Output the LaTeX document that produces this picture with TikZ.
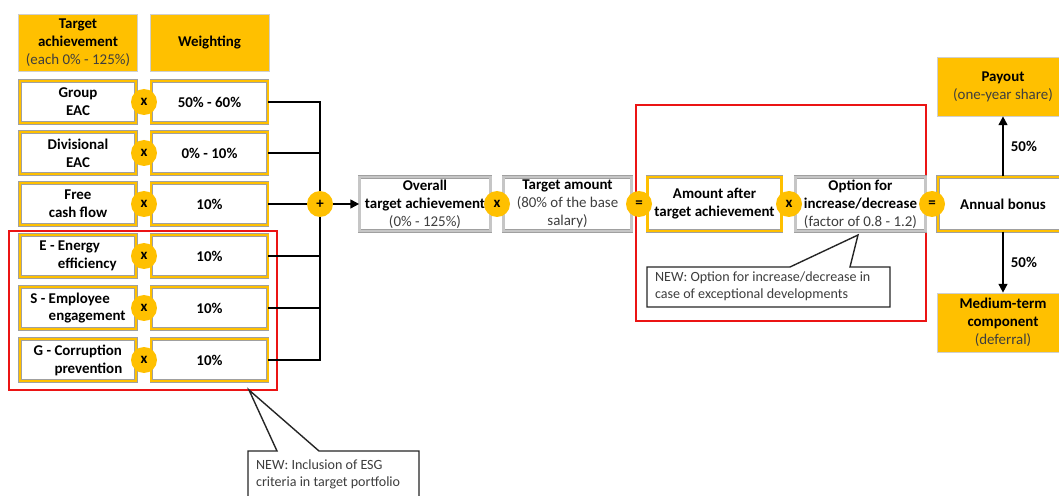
\documentclass[tikz,border=0pt]{standalone}
\usepackage{fontspec}
\setmainfont{Carlito}
\usetikzlibrary{arrows.meta}

\definecolor{bonusyellow}{RGB}{255,192,0}
\definecolor{framegray}{RGB}{160,160,160}
\definecolor{esgred}{RGB}{235,20,20}
\definecolor{subgray}{RGB}{62,62,62}
\newcommand{\subtxt}[1]{{\color{subgray}#1}}

\begin{document}
\begin{tikzpicture}[x=0.02cm,y=-0.02cm,
    every node/.style={font=\fontsize{8.5}{10.2}\selectfont, align=center, inner sep=1pt},
    headbox/.style={fill=bonusyellow, draw=framegray!50, line width=0.4pt,
      minimum width=2.38cm, minimum height=1.14cm},
    rowbox/.style={fill=white, draw=framegray, line width=0.35pt, double=bonusyellow,
      double distance=1.3pt, minimum width=2.33cm, minimum height=0.85cm,
      font=\fontsize{8.5}{10.2}\selectfont\bfseries},
    graybox/.style={fill=white, draw=framegray, line width=0.4pt, double=framegray!60,
      double distance=1.4pt, minimum height=1.09cm},
    opcircle/.style={circle, fill=bonusyellow, minimum size=0.52cm, inner sep=0pt,
      font=\fontsize{8.5}{10.2}\selectfont\bfseries},
    connector/.style={line width=1pt},
    esgframe/.style={draw=esgred, line width=1.3pt},
    callout/.style={draw=black!85, fill=white, line width=0.8pt},
    notetext/.style={anchor=north west, align=left, text=subgray,
      font=\fontsize{8}{9.6}\selectfont}]
        \useasboundingbox (0,0) rectangle (1059,496);
        \clip (0,0) rectangle (1059,496);
        % highlight frames
        \draw[esgframe] (9,231) rectangle (277,390);
        \draw[esgframe] (636,105) rectangle (926,321);
        % column heads
        \node[headbox] (tahead) at (78,43) {\textbf{Target}\\\textbf{achievement}\\\subtxt{(each 0\% - 125\%)}};
        \node[headbox] (wthead) at (209.5,43) {\textbf{Weighting}};
        % target achievement per component
        \node[rowbox] (t1) at (78,102) {Group\\EAC};
        \node[rowbox] (t2) at (78,153) {Divisional\\EAC};
        \node[rowbox] (t3) at (78,204) {Free\\cash flow};
        \node[rowbox, align=left] (t4) at (78,256) {E - Energy\\\phantom{E - }efficiency};
        \node[rowbox, align=left] (t5) at (78,308) {S - Employee\\\phantom{S - }engagement};
        \node[rowbox, align=left] (t6) at (78,360) {G - Corruption\\\phantom{G - }prevention};
        % weightings
        \node[rowbox] (w1) at (209.5,102) {50\% - 60\%};
        \node[rowbox] (w2) at (209.5,153) {0\% - 10\%};
        \node[rowbox] (w3) at (209.5,204) {10\%};
        \node[rowbox] (w4) at (209.5,256) {10\%};
        \node[rowbox] (w5) at (209.5,308) {10\%};
        \node[rowbox] (w6) at (209.5,360) {10\%};
        % sum of weighted components
        \node[opcircle] (plus) at (320,204) {+};
        \draw[connector] (w1.east) -| (plus);
        \draw[connector] (w2.east) -| (plus);
        \draw[connector] (w3.east) -- (plus);
        \draw[connector] (w4.east) -| (plus);
        \draw[connector] (w5.east) -| (plus);
        \draw[connector] (w6.east) -| (plus);
        % operators between columns
        \node[opcircle] (x1) at (144,102) {x};
        \node[opcircle] (x2) at (144,153) {x};
        \node[opcircle] (x3) at (144,204) {x};
        \node[opcircle] (x4) at (144,256) {x};
        \node[opcircle] (x5) at (144,308) {x};
        \node[opcircle] (x6) at (144,360) {x};
        % bonus chain
        \node[graybox, minimum width=2.62cm] (overall) at (425,204) {\textbf{Overall}\\\textbf{target achievement}\\\subtxt{(0\% - 125\%)}};
        \node[graybox, minimum width=2.56cm] (amount) at (567.5,204) {\textbf{Target amount}\\\subtxt{(80\% of the base}\\\subtxt{salary)}};
        \node[rowbox, minimum width=2.68cm, minimum height=1.09cm] (after) at (714.5,204) {Amount after\\target achievement};
        \node[graybox, minimum width=2.6cm] (option) at (860.5,204) {\textbf{Option for}\\\textbf{increase/decrease}\\\subtxt{(factor of 0.8 - 1.2)}};
        \node[rowbox, minimum width=2.6cm, minimum height=1.09cm] (bonus) at (1003,204) {Annual bonus};
        \node[opcircle] (x7) at (497,204) {x};
        \node[opcircle] (eq1) at (639,204) {=};
        \node[opcircle] (x8) at (789,204) {x};
        \node[opcircle] (eq2) at (932,204) {=};
        \draw[connector, -{Triangle[length=5pt,width=5pt]}] (plus) -- (overall);
        % split of the annual bonus
        \node[headbox, minimum width=2.64cm, minimum height=1.18cm] (payout) at (1003,86.5) {\textbf{Payout}\\\subtxt{(one-year share)}};
        \node[headbox, minimum width=2.64cm, minimum height=1.18cm] (deferral) at (1003,322.5) {\textbf{Medium-term}\\\textbf{component}\\\subtxt{(deferral)}};
        \draw[connector, -{Triangle[length=5pt,width=5pt]}] (bonus) -- (payout) node[midway, right=3pt, font=\fontsize{8.5}{10.2}\selectfont\bfseries] {50\%};
        \draw[connector, -{Triangle[length=5pt,width=5pt]}] (bonus) -- (deferral) node[midway, right=3pt, font=\fontsize{8.5}{10.2}\selectfont\bfseries] {50\%};
        % callouts
        \coordinate (optiontip) at (858,235);
        \draw[callout] (647,267) -- (790,267) -- (optiontip) -- (850,267) -- (890,267) -- (890,307) -- (647,307) -- cycle;
        \node[notetext] (optionnote) at (653,270) {NEW: Option for increase/decrease in\\case of exceptional developments};
        \coordinate (esgtip) at (249,390);
        \draw[callout] (248,451) -- (277,451) -- (esgtip) -- (319,451) -- (419,451) -- (419,520) -- (248,520) -- cycle;
        \node[notetext] (esgnote) at (254,458) {NEW: Inclusion of ESG\\criteria in target portfolio};
      \end{tikzpicture}
\end{document}
